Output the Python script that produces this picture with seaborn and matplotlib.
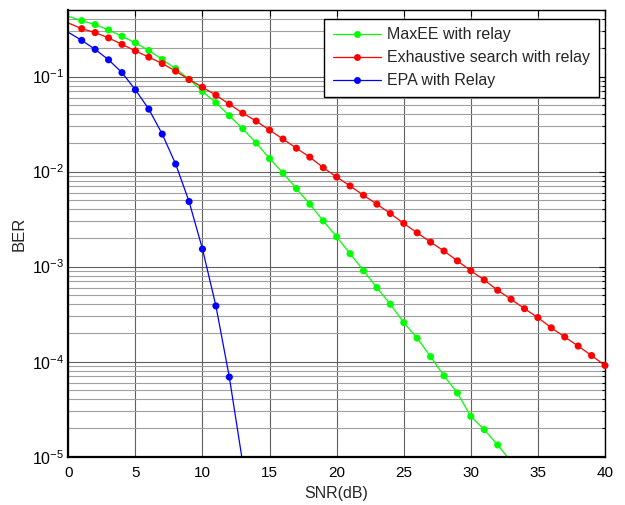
import numpy as np
import pandas as pd
import matplotlib
matplotlib.use("Agg")
import matplotlib.pyplot as plt
from matplotlib.lines import Line2D
from matplotlib.ticker import LogLocator, NullFormatter
import seaborn as sns

snr = list(range(0, 41))
maxee = [0.430, 0.387, 0.352, 0.309, 0.265, 0.226, 0.188, 0.151, 0.121, 0.0937,
         0.0696, 0.0530, 0.0387, 0.0283, 0.0200, 0.0137, 0.00967, 0.00663, 0.00454, 0.00303,
         0.00206, 0.00137, 0.000906, 0.000601, 0.000402, 0.000258, 0.000177, 0.000113, 7.11e-5, 4.69e-5,
         2.66e-5, 1.93e-5, 1.33e-5, 8.9e-6]
exhaustive = [0.366, 0.319, 0.290, 0.255, 0.218, 0.186, 0.160, 0.137, 0.114, 0.0930,
              0.0772, 0.0637, 0.0512, 0.0412, 0.0340, 0.0273, 0.0220, 0.0176, 0.0142, 0.0110,
              0.00877, 0.00706, 0.00564, 0.00454, 0.00362, 0.00285, 0.00227, 0.00181, 0.00146, 0.00115,
              0.000906, 0.000723, 0.000564, 0.000454, 0.000361, 0.000291, 0.000227, 0.000182, 0.000146, 0.000116,
              9.12e-5]
epa = [0.292, 0.240, 0.193, 0.150, 0.110, 0.0725, 0.0454, 0.0248, 0.0120, 0.00484,
       0.00153, 0.000386, 6.89e-5, 8.57e-6]

labels = ["MaxEE with relay", "Exhaustive search with relay", "EPA with Relay"]
colors = ["#00ff00", "#ff0000", "#0000ff"]
xticks = [0, 5, 10, 15, 20, 25, 30, 35, 40]

rows = []
for lab, vals in zip(labels, [maxee, exhaustive, epa]):
    for x, v in zip(snr, vals):
        rows.append({"SNR": x, "BER": v, "Scheme": lab})
df = pd.DataFrame(rows)

sns.set_style("white")
plt.rcParams["font.family"] = ["Liberation Sans", "DejaVu Sans"]
plt.rcParams["mathtext.fontset"] = "custom"
plt.rcParams["mathtext.rm"] = "Liberation Sans"
plt.rcParams["mathtext.default"] = "regular"

fig = plt.figure(figsize=(6.25, 5.05), dpi=100)
ax = fig.add_axes([0.1093, 0.0956, 0.968 - 0.1093, 0.980 - 0.0956])

pal = dict(zip(labels, colors))
sns.lineplot(data=df, x="SNR", y="BER", hue="Scheme", palette=pal, hue_order=labels,
             linewidth=0.9, legend=False, ax=ax, estimator=None, sort=False)
ax.set_yscale("log")
ax.set_xlim(0, 40)
ax.set_ylim(1e-5, 0.5)

mk = df[(df["SNR"] >= 1) & (df["BER"] >= 1e-5)]
sns.scatterplot(data=mk, x="SNR", y="BER", hue="Scheme", palette=pal, hue_order=labels,
                s=26, linewidth=0, legend=False, ax=ax, clip_on=False, zorder=5)

ax.set_xticks(xticks)
ax.set_xticklabels([str(t) for t in xticks])
ax.yaxis.set_major_locator(LogLocator(base=10, numticks=10))
ax.yaxis.set_minor_locator(LogLocator(base=10, subs=np.arange(2, 10), numticks=20))
ax.yaxis.set_minor_formatter(NullFormatter())

ax.grid(True, which="major", axis="both", color="#606060", linewidth=0.8)
ax.grid(True, which="minor", axis="y", color="#a0a0a0", linewidth=0.8)
ax.set_axisbelow(True)

ax.tick_params(axis="both", which="both", direction="in", top=True, right=True,
               colors="black", length=4, width=0.8)
ax.tick_params(axis="x", labelsize=11, pad=7)
ax.tick_params(axis="y", labelsize=11.5, pad=3)
ax.tick_params(axis="y", which="minor", length=2)
for s in ax.spines.values():
    s.set_color("black")
    s.set_linewidth(1.0)
ax.spines["left"].set_linewidth(1.6)
ax.spines["bottom"].set_linewidth(1.6)

ax.set_xlabel("SNR(dB)", fontsize=11.5, labelpad=4)
ax.set_ylabel("BER", fontsize=12, labelpad=4)

handles = [Line2D([0], [0], color=c, marker="o", markersize=5, markeredgewidth=0, linewidth=0.9)
           for c in colors]
leg = ax.legend(handles, labels, loc="upper right", bbox_to_anchor=(0.989, 0.981),
                fontsize=11.5, frameon=True, fancybox=False, framealpha=1,
                edgecolor="black", handlelength=3.0, handletextpad=0.4,
                borderpad=0.55, labelspacing=0.5, borderaxespad=0)
leg.get_frame().set_linewidth(1.0)

fig.savefig("out.png", dpi=100)
